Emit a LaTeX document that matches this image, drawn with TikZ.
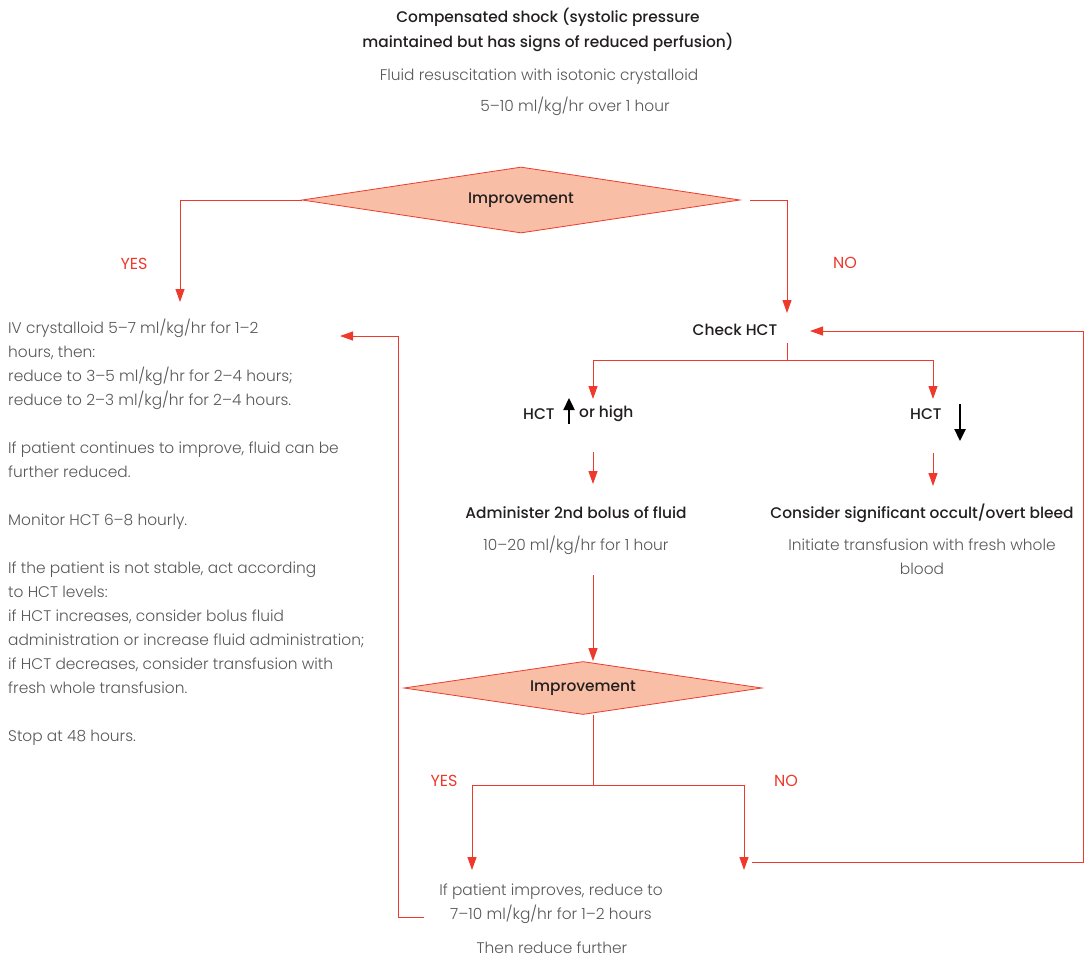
\documentclass[tikz,border=0pt]{standalone}
\usepackage{fontspec}
\setmainfont{Poppins}
\IfFontExistsTF{Poppins Medium}{\newfontfamily\headfont{Poppins Medium}}{\newfontfamily\headfont{Poppins}}
\IfFontExistsTF{Poppins Light}{\newfontfamily\bodyfont{Poppins Light}}{\newfontfamily\bodyfont{Poppins}}
\usetikzlibrary{shapes.geometric,arrows.meta,positioning}
\definecolor{flowred}{HTML}{EE3A2D}
\definecolor{diafill}{HTML}{F9BEA6}
\definecolor{inkdark}{HTML}{231F20}
\definecolor{inkgrey}{HTML}{58585A}
\tikzset{
  flow/.style={draw=flowred, line width=1pt, -{Triangle[length=13pt,width=9pt]}},
  link/.style={draw=flowred, line width=1pt},
  decision/.style={diamond, draw=flowred, fill=diafill, line width=0.8pt,
    minimum width=438pt, minimum height=66pt, aspect=6.6, inner sep=0pt, text=inkdark,
    font=\headfont\fontsize{15.4}{24}\selectfont},
  head/.style={text=inkdark, font=\headfont\fontsize{15.4}{25}\selectfont, align=center, inner sep=0pt},
  body/.style={text=inkgrey, font=\bodyfont\fontsize{15.4}{24}\selectfont, align=center, inner sep=0pt},
  answer/.style={text=flowred, font=\fontsize{16}{24}\selectfont, inner sep=0pt},
  hctarrow/.style={draw=black, line width=2.4pt, -{Triangle[length=12pt,width=11pt]}}
}
\begin{document}
\begin{tikzpicture}[x=1pt,y=-1pt]
\useasboundingbox[fill=white] (0,0) rectangle (1089,959);

% start
\node[head] (shock) at (548,30) {Compensated shock (systolic pressure\\maintained but has signs of reduced perfusion)};
\node[body] (fluid) at (539,77) {Fluid resuscitation with isotonic crystalloid};
\node[body] (rate) at (575,106) {5–10 ml/kg/hr over 1 hour};

% first decision
\node[decision] (imp1) at (521,200) {Improvement};
\coordinate (yestip) at (180,302);
\coordinate (notip) at (787,313);
\draw[flow] (imp1.west) -| (yestip);
\draw[flow] ([xshift=10pt]imp1.east) -| (notip);
\node[answer] (yes1) at (134,264) {YES};
\node[answer] (no1) at (845,263) {NO};

% stable branch
\node[body, anchor=north west, align=left] (iv) at (8,319) {IV crystalloid 5–7 ml/kg/hr for 1–2\\
hours, then:\\
reduce to 3–5 ml/kg/hr for 2–4 hours;\\
reduce to 2–3 ml/kg/hr for 2–4 hours.\\[24pt]
If patient continues to improve, fluid can be\\
further reduced.\\[24pt]
Monitor HCT 6–8 hourly.\\[24pt]
If the patient is not stable, act according\\
to HCT levels:\\
if HCT increases, consider bolus fluid\\
administration or increase fluid administration;\\
if HCT decreases, consider transfusion with\\
fresh whole transfusion.\\[24pt]
Stop at 48 hours.};

% check HCT
\node[head] (check) at (735,330) {Check HCT};
\coordinate (checkout) at (787,343);
\coordinate (split) at (787,360);
\coordinate (hitip) at (593,399);
\coordinate (lotip) at (933,399);
\draw[link] (checkout) -- (split);
\draw[flow] (split) -| (hitip);
\draw[flow] (split) -| (lotip);

\node[head, anchor=west] (hcthi) at (523,414) {HCT};
\node[head, anchor=west] (hcthigh) at (579,414) {or high};
\draw[hctarrow] (569,424) -- (569,398);
\node[head, anchor=west] (hctlo) at (910,414) {HCT};
\draw[hctarrow] (960,404) -- (960,441);

\coordinate (hiout) at (593,452);
\coordinate (bolustip) at (593,484);
\coordinate (loout) at (933,453);
\coordinate (bleedtip) at (933,486);
\draw[flow] (hiout) -- (bolustip);
\draw[flow] (loout) -- (bleedtip);

\node[head] (bolus) at (576,513) {Administer 2nd bolus of fluid};
\node[body] (bolusrate) at (576,545) {10–20 ml/kg/hr for 1 hour};
\node[head] (bleed) at (922,513) {Consider significant occult/overt bleed};
\node[body] (transf) at (922,557) {Initiate transfusion with fresh whole\\blood};

% second decision
\node[decision, minimum width=358pt, minimum height=53pt, aspect=6.75] (imp2) at (583,688) {Improvement};
\coordinate (bolusout) at (593,575);
\draw[flow] (bolusout) -- (imp2.north -| bolusout);
\coordinate (fork) at (593,785);
\coordinate (yes2tip) at (472,870);
\coordinate (no2tip) at (744,870);
\draw[link] (imp2.south -| fork) -- (fork);
\draw[flow] (fork) -| (yes2tip);
\draw[flow] (fork) -| (no2tip);
\node[answer] (yes2) at (444,781) {YES};
\node[answer] (no2) at (786,781) {NO};

% loop back to check HCT
\coordinate (loopstart) at (752,862);
\coordinate (loopright) at (1083,331);
\coordinate (checkin) at (810,331);
\draw[flow] (loopstart) -| (loopright) -- (checkin);

% improving
\node[body] (reduce) at (551,904) {If patient improves, reduce to\\7–10 ml/kg/hr for 1–2 hours};
\node[body] (further) at (552,948) {Then reduce further};
\coordinate (reduceout) at (424,917);
\coordinate (backcorner) at (398,336);
\coordinate (ivin) at (340,336);
\draw[flow] (reduceout) -| (backcorner) -- (ivin);
\end{tikzpicture}
\end{document}
